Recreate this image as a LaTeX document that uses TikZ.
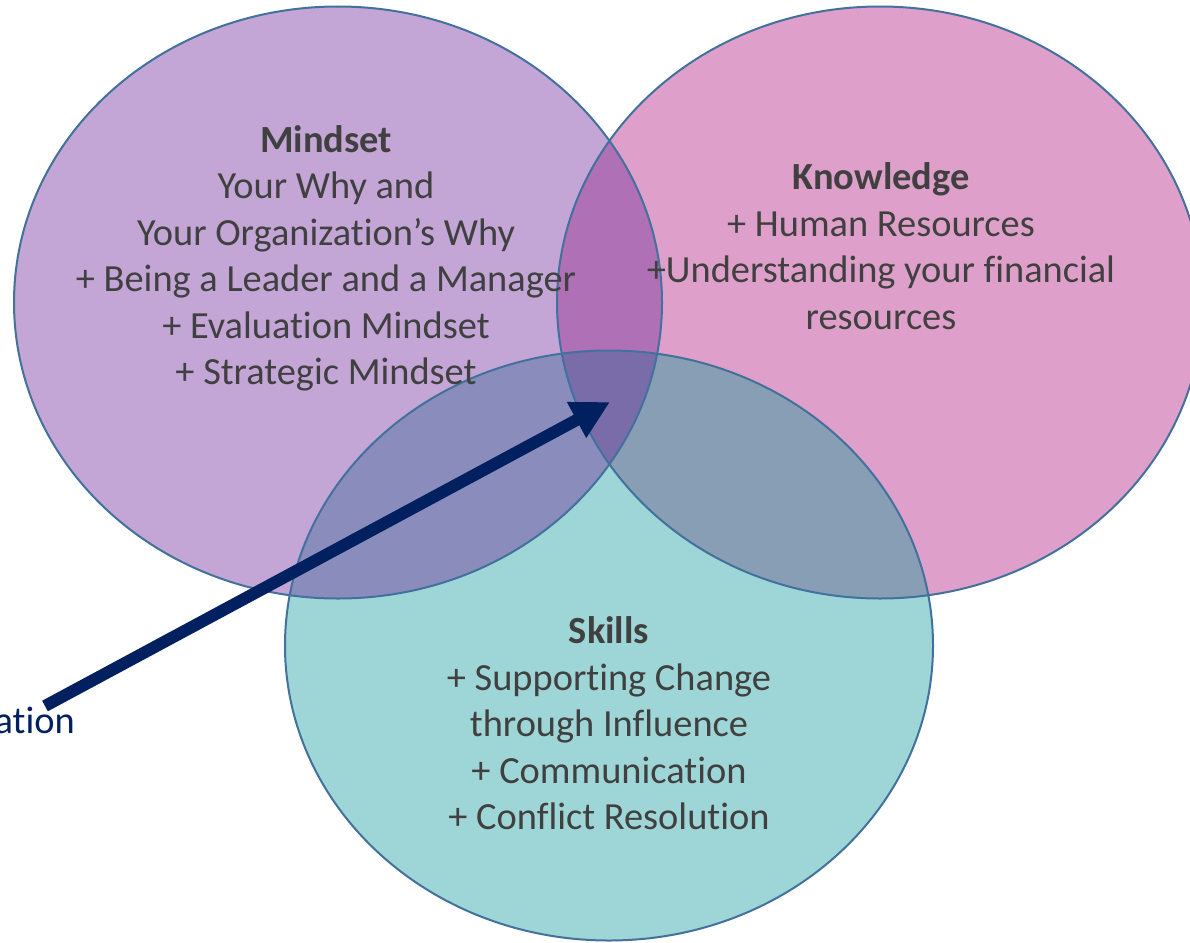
\documentclass[tikz,border=0pt]{standalone}
\usepackage{fontspec}
\setmainfont{Carlito}[Ligatures={NoCommon}]
\usetikzlibrary{arrows.meta}
\definecolor{cM}{HTML}{C3A5D6}
\definecolor{cK}{HTML}{DEA0CA}
\definecolor{cS}{HTML}{9ED5D6}
\definecolor{cMK}{HTML}{B070B5}
\definecolor{cMS}{HTML}{8A8DBC}
\definecolor{cKS}{HTML}{879EB5}
\definecolor{cMKS}{HTML}{7A6CA8}
\definecolor{edge}{HTML}{41719C}
\definecolor{navy}{HTML}{002060}
\definecolor{txt}{HTML}{404040}
\def\ellM{(338,302.5) ellipse [x radius=324pt, y radius=296pt]}
\def\ellK{(880,302.5) ellipse [x radius=323pt, y radius=296pt]}
\def\ellS{(609,645.5) ellipse [x radius=324pt, y radius=295pt]}
\tikzset{
  outline/.style={draw=edge, line width=2pt},
  label/.style={text=txt, align=center, inner sep=0pt, font=\fontsize{38.4}{46.5}\selectfont},
  pointer/.style={draw=navy, line width=12pt, -{Triangle[length=38pt,width=38pt]}},
}
\begin{document}
\begin{tikzpicture}[x=1pt,y=-1pt]
\useasboundingbox (0,0) rectangle (1190,942);
% base fills
\fill[cM] \ellM;
\fill[cK] \ellK;
\fill[cS] \ellS;
% overlaps
\begin{scope}
  \clip \ellM;
  \fill[cMK] \ellK;
  \fill[cMS] \ellS;
\end{scope}
\begin{scope}
  \clip \ellK;
  \fill[cKS] \ellS;
\end{scope}
\begin{scope}
  \clip \ellM;
  \clip \ellK;
  \fill[cMKS] \ellS;
\end{scope}
% outlines
\draw[outline] \ellM;
\draw[outline] \ellK;
\draw[outline] \ellS;
% texts
\node[label] (mindset) at (326,258.5) {\textbf{Mindset}\\Your Why and\\Your Organization’s Why\\+ Being a Leader and a Manager\\+ Evaluation Mindset\\+ Strategic Mindset};
\node[label] (knowledge) at (881,246) {\textbf{Knowledge}\\+ Human Resources\\+Understanding your financial\\resources};
\node[label] (skills) at (609,723.5) {\textbf{Skills}\\+ Supporting Change\\through Influence\\+ Communication\\+ Conflict Resolution};
\node[text=navy, anchor=base east, inner sep=0pt, font=\fontsize{38.4}{46.5}\selectfont] (cut) at (75,733) {ation};
% arrow
\coordinate (tail) at (45,706);
\coordinate (tip) at (610,402);
\draw[pointer] (tail) -- (tip);
\end{tikzpicture}
\end{document}
